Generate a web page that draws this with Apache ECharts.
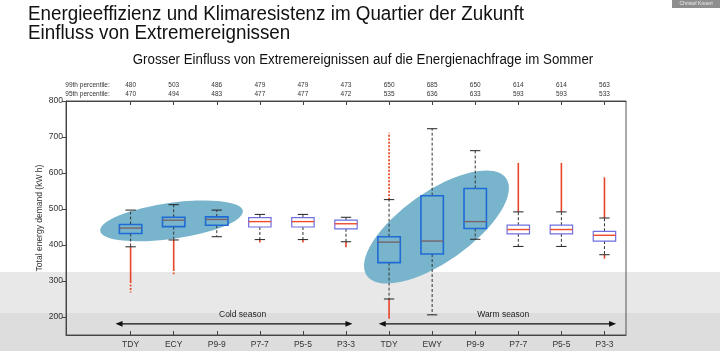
<!DOCTYPE html>
<html>
<head>
<meta charset="utf-8">
<script src="https://cdn.jsdelivr.net/npm/echarts@6/dist/echarts.min.js"></script>
<style>
html, body { margin: 0; padding: 0; background: #fff; }
#chart { width: 720px; height: 351px; }
</style>
</head>
<body>
<div id="chart"></div>
<script>
var categories = ['TDY', 'ECY', 'P9-9', 'P7-7', 'P5-5', 'P3-3', 'TDY', 'EWY', 'P9-9', 'P7-7', 'P5-5', 'P3-3'];
var p99 = [480, 503, 486, 479, 479, 473, 650, 685, 650, 614, 614, 563];
var p95 = [470, 494, 483, 477, 477, 472, 535, 636, 633, 593, 593, 533];

var whiskerLow  = [395, 414, 423, 415, 415, 409, 250, 206, 416, 396, 396, 373];
var q1          = [432, 451, 455, 450, 450, 445, 351, 375, 446, 431, 431, 411];
var median      = [447, 469, 471, 465, 465, 459, 408, 411, 465, 443, 443, 427];
var q3          = [457, 477, 478, 476, 476, 469, 423, 537, 557, 455, 455, 438];
var whiskerHigh = [497, 512, 497, 485, 485, 477, 526, 723, 662, 492, 492, 475];
var highlighted = [1, 1, 1, 0, 0, 0, 1, 1, 1, 0, 0, 0];

// outliers show as runs of red points: [position, from, to]
var outlierRuns = [[1, 395, 300], [2, 414, 333], [4, 415, 407], [5, 415, 407], [6, 409, 394],
  [7, 250, 195], [10, 492, 628], [11, 492, 628], [12, 475, 588], [12, 373, 362]];
var outlierSparse = [[1, 300, 268], [2, 333, 319], [7, 526, 712]];

var yTicks = [200, 300, 400, 500, 600, 700, 800];
var seasonNames = ['Cold season', 'Warm season'];
var seasonSpans = [[0.65, 6.15, 3.6], [6.76, 12.27, 9.65]];
var ellipseCenters = [[1.95, 467], [8.1, 450]];

var positions = categories.map(function (c, i) { return i + 1; });
var labelPositions = [0].concat(positions);
var font = '"Liberation Sans", Arial, sans-serif';

var boxData = categories.map(function (c, i) {
  return [i + 1, whiskerLow[i], q1[i], median[i], q3[i], whiskerHigh[i], highlighted[i]];
});

// ellipse sizes in px: [semi-major, semi-minor, angle deg]
var ellipseShape = [[72, 18, 8], [85, 35, 35]];

function renderEllipse(params, api) {
  var c = api.coord([api.value(0), api.value(1)]);
  var s = ellipseShape[params.dataIndex];
  return {
    type: 'circle',
    shape: { cx: 0, cy: 0, r: 1 },
    x: c[0], y: c[1],
    scaleX: s[0], scaleY: s[1],
    rotation: s[2] * Math.PI / 180,
    style: { fill: '#78b5cd' }
  };
}

function renderRun(dashed) {
  return function (params, api) {
    var a = api.coord([api.value(0), api.value(1)]);
    var b = api.coord([api.value(0), api.value(2)]);
    return {
      type: 'line',
      shape: { x1: a[0], y1: a[1], x2: b[0], y2: b[1] },
      style: dashed
        ? { stroke: '#e8502e', lineWidth: 1.8, lineDash: [2, 1.5] }
        : { stroke: '#e8442a', lineWidth: 1.6 }
    };
  };
}

function renderBox(params, api) {
  var x = api.value(0);
  var band = api.size([1, 0])[0];
  var hw = band * 0.26, cw = band * 0.12;
  var lo = api.coord([x, api.value(1)]);
  var b1 = api.coord([x, api.value(2)]);
  var md = api.coord([x, api.value(3)]);
  var b3 = api.coord([x, api.value(4)]);
  var hi = api.coord([x, api.value(5)]);
  var hl = api.value(6) === 1;
  var cx = lo[0];
  var dash = { stroke: '#333', lineWidth: 1, lineDash: [3, 2] };
  var cap = { stroke: '#222', lineWidth: 1 };
  return {
    type: 'group',
    children: [
      { type: 'line', shape: { x1: cx, y1: b3[1], x2: cx, y2: hi[1] }, style: dash },
      { type: 'line', shape: { x1: cx, y1: b1[1], x2: cx, y2: lo[1] }, style: dash },
      { type: 'line', shape: { x1: cx - cw, y1: hi[1], x2: cx + cw, y2: hi[1] }, style: cap },
      { type: 'line', shape: { x1: cx - cw, y1: lo[1], x2: cx + cw, y2: lo[1] }, style: cap },
      {
        type: 'rect',
        shape: { x: cx - hw, y: b3[1], width: 2 * hw, height: b1[1] - b3[1] },
        style: {
          fill: hl ? 'rgba(0,0,0,0)' : '#fff',
          stroke: hl ? '#1f6bd6' : '#6f6fe0',
          lineWidth: hl ? 1.6 : 1.2
        }
      },
      {
        type: 'line',
        shape: { x1: cx - hw, y1: md[1], x2: cx + hw, y2: md[1] },
        style: { stroke: hl ? '#76636a' : '#ee4a2c', lineWidth: 1.4 }
      }
    ]
  };
}

function renderSeason(params, api) {
  var y = 181;
  var p1 = api.coord([api.value(0), y]);
  var p2 = api.coord([api.value(1), y]);
  var pt = api.coord([api.value(2), 206]);
  return {
    type: 'group',
    children: [
      { type: 'line', shape: { x1: p1[0] + 3, y1: p1[1], x2: p2[0] - 3, y2: p2[1] }, style: { stroke: '#111', lineWidth: 1.4 } },
      { type: 'polygon', shape: { points: [[p1[0], p1[1]], [p1[0] + 7, p1[1] - 2.8], [p1[0] + 7, p1[1] + 2.8]] }, style: { fill: '#111' } },
      { type: 'polygon', shape: { points: [[p2[0], p2[1]], [p2[0] - 7, p2[1] - 2.8], [p2[0] - 7, p2[1] + 2.8]] }, style: { fill: '#111' } },
      {
        type: 'text', x: pt[0], y: pt[1],
        style: { text: seasonNames[params.dataIndex], font: '8.5px ' + font, fill: '#222', align: 'center', verticalAlign: 'middle' }
      }
    ]
  };
}

var chart = echarts.init(document.getElementById('chart'));

var option = {
  animation: false,
  backgroundColor: '#fff',
  textStyle: { fontFamily: font },
  graphic: [
    { type: 'rect', z: -10, shape: { x: 0, y: 272, width: 720, height: 79 }, style: { fill: '#e8e8e8' } },
    { type: 'rect', z: -9, shape: { x: 0, y: 313, width: 720, height: 38 }, style: { fill: '#dddddd' } },
    { type: 'rect', shape: { x: 672, y: 0, width: 48, height: 8 }, style: { fill: '#8e8e8e' } },
    { type: 'text', x: 696, y: 4, style: { text: 'Christof Knoeri', font: '5px ' + font, fill: '#eee', align: 'center', verticalAlign: 'middle' } },
    { type: 'text', x: 28, y: 14, scaleX: 0.94, style: { text: 'Energieeffizienz und Klimaresistenz im Quartier der Zukunft', font: '20px ' + font, fill: '#111', align: 'left', verticalAlign: 'middle' } },
    { type: 'text', x: 28, y: 33, scaleX: 0.94, style: { text: 'Einfluss von Extremereignissen', font: '20px ' + font, fill: '#111', align: 'left', verticalAlign: 'middle' } },
    { type: 'text', x: 363, y: 60, scaleX: 0.95, style: { text: 'Grosser Einfluss von Extremereignissen auf die Energienachfrage im Sommer', font: '14px ' + font, fill: '#111', align: 'center', verticalAlign: 'middle' } }
  ],
  grid: {
    left: 66, right: 94, top: 101, bottom: 16,
    show: true, borderColor: '#555', borderWidth: 1, backgroundColor: 'transparent'
  },
  xAxis: [
    {
      type: 'value', position: 'bottom', min: -0.5, max: 12.5,
      axisLine: { show: true, onZero: false, lineStyle: { color: '#444' } },
      axisTick: { show: true, inside: true, length: 4, customValues: positions, lineStyle: { color: '#444' } },
      axisLabel: {
        customValues: positions, fontSize: 8.5, color: '#333', margin: 5,
        formatter: function (v) { return categories[v - 1]; }
      },
      splitLine: { show: false }
    },
    {
      type: 'value', position: 'top', min: -0.5, max: 12.5,
      axisLine: { show: true, onZero: false, lineStyle: { color: '#444' } },
      axisTick: { show: true, inside: true, length: 4, customValues: positions, lineStyle: { color: '#444' } },
      axisLabel: {
        customValues: labelPositions, fontSize: 6.5, color: '#333', margin: 3,
        formatter: function (v) { return v === 0 ? '95th percentile:' : String(p95[v - 1]); }
      },
      splitLine: { show: false }
    },
    {
      type: 'value', position: 'top', offset: 9, min: -0.5, max: 12.5,
      axisLine: { show: false, onZero: false }, axisTick: { show: false },
      axisLabel: {
        customValues: labelPositions, fontSize: 6.5, color: '#333', margin: 3,
        formatter: function (v) { return v === 0 ? '99th percentile:' : String(p99[v - 1]); }
      },
      splitLine: { show: false }
    }
  ],
  yAxis: {
    type: 'value', min: 150, max: 800,
    name: 'Total energy demand (kW h)', nameLocation: 'middle', nameGap: 22, nameMoveOverlap: false,
    nameTextStyle: { fontSize: 8.5, color: '#333' },
    axisLine: { show: true, onZero: false, lineStyle: { color: '#444' } },
    axisTick: { show: true, length: 4, customValues: yTicks, lineStyle: { color: '#444' } },
    axisLabel: { customValues: yTicks, fontSize: 8.5, color: '#333', margin: 3 },
    splitLine: { show: false }
  },
  series: [
    { type: 'custom', z: 1, renderItem: renderEllipse, data: ellipseCenters, silent: true },
    { type: 'custom', z: 2, renderItem: renderRun(false), data: outlierRuns, silent: true },
    { type: 'custom', z: 2, renderItem: renderRun(true), data: outlierSparse, silent: true },
    { type: 'custom', z: 3, renderItem: renderBox, data: boxData, silent: true },
    { type: 'custom', z: 3, renderItem: renderSeason, data: seasonSpans, silent: true }
  ]
};

chart.setOption(option);
</script>
</body>
</html>
